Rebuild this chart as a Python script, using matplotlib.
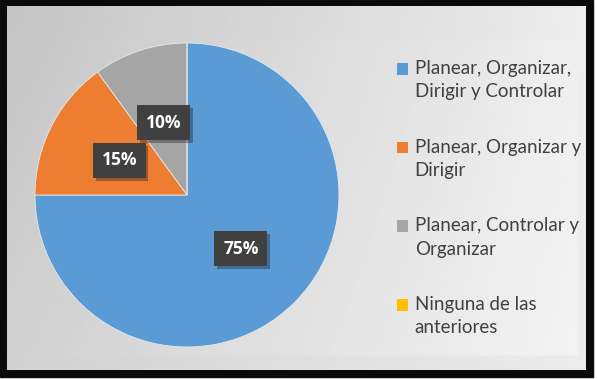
import numpy as np
import matplotlib.pyplot as plt
from matplotlib.patches import Rectangle
from matplotlib.legend_handler import HandlerPatch
import matplotlib.patheffects as pe

labels = [
    "Planear, Organizar,\nDirigir y Controlar",
    "Planear, Organizar y\nDirigir",
    "Planear, Controlar y\nOrganizar",
    "Ninguna de las\nanteriores",
]
shares = [75, 15, 10, 0]
colors = ["#5b9bd5", "#ed7d31", "#a5a5a5", "#ffc000"]

W, H = 597, 379
fig = plt.figure(figsize=(W / 100, H / 100), dpi=100)
fig.patch.set_facecolor("white")


def px(x0, y0, x1, y1):
    # pixel box (top-left origin) -> figure fraction rect
    return [x0 / W, 1 - y1 / H, (x1 - x0) / W, (y1 - y0) / H]


# black frame
bg = fig.add_axes([0, 0, 1, 1])
bg.set_xlim(0, W)
bg.set_ylim(H, 0)
bg.axis("off")
bg.add_patch(Rectangle((0, 0), 593, 377, color="#0a0a0a"))

# gray panel with soft gradient
panel = fig.add_axes(px(7, 6, 586, 370))
panel.axis("off")
gx, gy = np.meshgrid(np.linspace(0, 1, 300), np.linspace(0, 1, 200))
grad = 0.77 + 0.16 * gx + 0.05 * gy - 0.03 * gx * gy
inner = (gx < 573 / 579) & (gy > 32 / 364) & (gy < 350 / 364)
grad = np.where(inner, grad + 0.006 * gx, grad - 0.025 * gx * gy)
panel.imshow(grad, cmap="gray", vmin=0, vmax=1, aspect="auto",
             extent=(0, 1, 1, 0), interpolation="bilinear")
panel.set_xlim(0, 1)
panel.set_ylim(1, 0)

# pie
cx, cy, r = 187, 195, 152
ax = fig.add_axes(px(cx - r, cy - r, cx + r, cy + r))
wedges, _, autotexts = ax.pie(
    shares,
    colors=colors,
    startangle=90,
    counterclock=False,
    autopct=lambda p: f"{p:.0f}%" if p > 0 else "",
    pctdistance=0.5,
    wedgeprops=dict(edgecolor="#e8e8e8", linewidth=0.6),
    textprops=dict(color="white", fontsize=12.5, fontweight="bold",
                   family=["Open Sans", "DejaVu Sans"]),
)
ax.set_xlim(-1, 1)
ax.set_ylim(-1, 1)
ax.set_aspect("equal")
for t in autotexts:
    if t.get_text():
        t.set_bbox(dict(boxstyle="square,pad=0.5", facecolor="#404040",
                        edgecolor="none"))
        t.get_bbox_patch().set_path_effects(
            [pe.SimplePatchShadow(offset=(2, -2), alpha=0.35), pe.Normal()])


def top_square(legend, orig_handle, xdescent, ydescent, width, height, fontsize):
    # put the marker beside the first line of a two-line label
    return Rectangle((-xdescent, -ydescent + 0.62 * fontsize), width, height)


leg = fig.legend(
    wedges, labels,
    loc="upper left",
    bbox_to_anchor=(380 / W, 1 - 43 / H),
    frameon=False,
    prop=dict(family=["Lato", "DejaVu Sans"], size=13.5),
    labelcolor="#404040",
    handlelength=0.6,
    handleheight=0.6,
    handletextpad=0.35,
    labelspacing=2.05,
    handler_map={w: HandlerPatch(patch_func=top_square) for w in wedges},
)
for t in leg.get_texts():
    t.set_linespacing(1.45)
for h in leg.legend_handles:
    h.set_edgecolor("none")

fig.savefig("out.png", dpi=100)
